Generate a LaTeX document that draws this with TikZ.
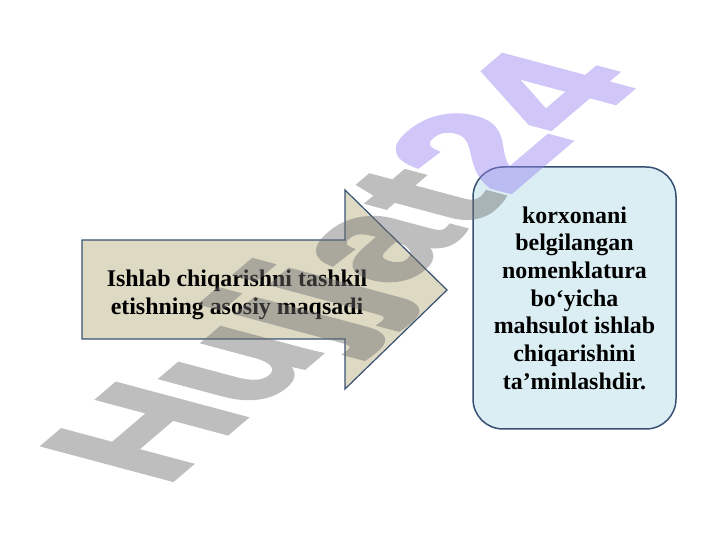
\documentclass[tikz,border=0pt]{standalone}
\usepackage{fontspec}
\setmainfont{Liberation Serif}
\newfontfamily\markfont{Liberation Sans}[BoldFeatures={FakeBold=3}]
\usepackage{tikz}
\usetikzlibrary{calc}
\usepackage{xcolor}
\definecolor{light_tan}{HTML}{DDD9C3}
\definecolor{pale_blue}{HTML}{DBEEF4}
\definecolor{edge_blue}{HTML}{385172}
\definecolor{mark_gray}{HTML}{6E6E6E}
\definecolor{mark_lilac}{HTML}{9682F0}

\begin{document}
\begin{tikzpicture}[x=1bp, y=1bp,
	bodytext/.style={font=\bfseries\fontsize{24}{27.8}\selectfont, align=center, inner sep=0pt}]
	\useasboundingbox (0, 0) rectangle (720, 540);
	\coordinate (T) at (447, 250);
	\coordinate (A) at (82, 300);
	\coordinate (B) at (345, 300);
	\coordinate (C) at (345, 350);
	\coordinate (D) at (345, 151);
	\coordinate (E) at (345, 201);
	\coordinate (F) at (82, 201);
	\draw[edge_blue, line width=1.2bp, fill=light_tan] (A) -- (B) -- (C) -- (T) -- (D) -- (E) -- (F) -- cycle;
	\node[bodytext] (goal) at (237, 245) {Ishlab chiqarishni tashkil\\etishning asosiy maqsadi};
	\node[bodytext, draw=edge_blue, fill=pale_blue, line width=1.5bp, rounded corners=30bp,
		minimum width=203bp, minimum height=262bp] (aim) at (574.5, 242)
		{korxonani\\belgilangan\\nomenklatura\\bo‘yicha\\mahsulot ishlab\\chiqarishini\\ta’minlashdir.};
	% watermark
	\begin{scope}[transparency group, opacity=0.45]
		\begin{scope}[cm={1.236, 1.052, -1.87, 0.50, (164bp, 53bp)}]
			\node[transform shape, anchor=base west, inner sep=0pt,
				font=\markfont\bfseries\fontsize{100}{100}\selectfont] (mark) at (0, 0)
				{\textcolor{mark_gray}{Hujjat}\textcolor{mark_lilac}{24}};
		\end{scope}
	\end{scope}
\end{tikzpicture}
\end{document}
